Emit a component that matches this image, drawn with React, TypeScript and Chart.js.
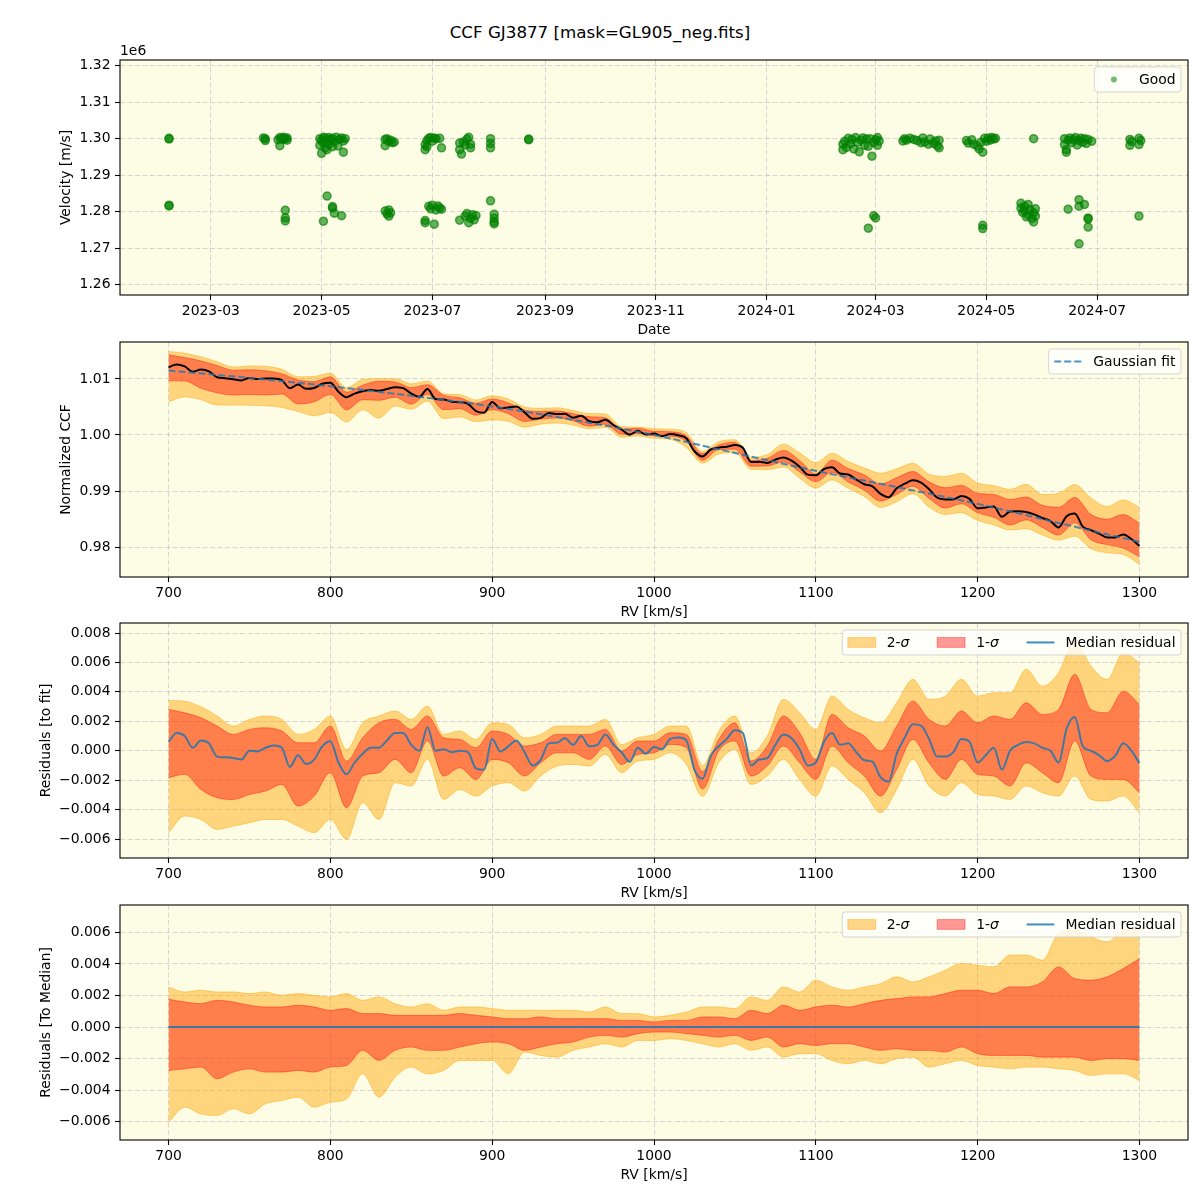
import React, { useEffect, useRef } from 'react';
import { Chart, registerables } from 'chart.js';

Chart.register(...registerables);

const FONT = '"DejaVu Sans", "Liberation Sans", sans-serif';
const FS = 13.9;
const BG = 'rgb(253,252,228)';
const GRID = 'rgba(165,165,185,0.55)';
const C2S = 'rgba(255,165,0,0.45)';
const C1S = 'rgba(255,0,0,0.4)';
const BLUE = 'rgba(31,119,180,0.85)';
const FIT_BLUE = 'rgba(31,119,180,0.8)';

const TITLE = 'CCF GJ3877 [mask=GL905_neg.fits]';

// ---------------- Panel 1: velocities vs date ----------------
const obsDates = [
  '2023-02-06', '2023-02-06', '2023-02-06', '2023-02-06',
  '2023-03-30', '2023-03-31', '2023-03-31', '2023-04-07', '2023-04-08', '2023-04-08', '2023-04-09', '2023-04-10', '2023-04-10', '2023-04-11', '2023-04-12', '2023-04-12', '2023-04-11', '2023-04-11', '2023-04-11',
  '2023-04-30', '2023-04-30', '2023-05-01', '2023-05-01', '2023-05-02', '2023-05-02', '2023-05-03', '2023-05-03', '2023-05-04', '2023-05-04', '2023-05-05', '2023-05-05', '2023-05-06', '2023-05-07', '2023-05-07', '2023-05-08', '2023-05-09', '2023-05-10', '2023-05-11', '2023-05-12', '2023-05-13', '2023-05-13', '2023-05-14',
  '2023-05-02', '2023-05-04', '2023-05-07', '2023-05-08', '2023-05-07', '2023-05-12',
  '2023-06-05', '2023-06-05', '2023-06-06', '2023-06-07', '2023-06-08', '2023-06-09', '2023-06-10', '2023-06-05', '2023-06-06', '2023-06-07', '2023-06-07', '2023-06-08',
  '2023-06-27', '2023-06-27', '2023-06-28', '2023-06-28', '2023-06-29', '2023-06-30', '2023-07-01', '2023-07-02', '2023-07-03', '2023-07-05', '2023-07-06',
  '2023-06-27', '2023-06-27', '2023-06-29', '2023-06-30', '2023-07-01', '2023-07-02', '2023-07-03', '2023-07-04', '2023-07-05', '2023-07-06',
  '2023-07-16', '2023-07-16', '2023-07-17', '2023-07-18', '2023-07-19', '2023-07-20', '2023-07-21', '2023-07-22', '2023-07-22',
  '2023-07-16', '2023-07-19', '2023-07-20', '2023-07-21', '2023-07-22', '2023-07-23', '2023-07-24', '2023-07-25',
  '2023-08-02', '2023-08-02', '2023-08-02', '2023-08-02', '2023-08-04', '2023-08-04', '2023-08-04', '2023-08-04', '2023-08-23', '2023-08-23',
  '2024-02-12', '2024-02-12', '2024-02-13', '2024-02-14', '2024-02-15', '2024-02-16', '2024-02-17', '2024-02-18', '2024-02-19', '2024-02-20', '2024-02-21', '2024-02-22',
  '2024-02-23', '2024-02-24', '2024-02-25', '2024-02-26', '2024-02-27', '2024-02-28', '2024-02-29', '2024-03-01', '2024-03-02', '2024-03-02', '2024-03-03',
  '2024-02-29', '2024-03-01', '2024-02-26',
  '2024-03-16', '2024-03-17', '2024-03-18', '2024-03-20', '2024-03-22', '2024-03-24', '2024-03-26', '2024-03-27', '2024-03-28', '2024-03-30', '2024-03-31', '2024-04-02', '2024-04-03', '2024-04-04', '2024-04-05', '2024-04-05',
  '2024-04-20', '2024-04-21', '2024-04-23', '2024-04-24', '2024-04-26', '2024-04-27', '2024-04-28', '2024-04-29', '2024-04-30', '2024-05-01', '2024-05-02', '2024-05-03', '2024-05-04', '2024-05-05', '2024-05-06', '2024-04-29', '2024-04-29',
  '2024-05-27', '2024-05-20', '2024-05-20', '2024-05-21', '2024-05-22', '2024-05-22', '2024-05-23', '2024-05-24', '2024-05-24', '2024-05-25', '2024-05-26', '2024-05-27', '2024-05-27', '2024-05-28', '2024-05-28',
  '2024-06-13', '2024-06-13', '2024-06-14', '2024-06-14', '2024-06-15', '2024-06-16', '2024-06-17', '2024-06-18', '2024-06-19', '2024-06-20', '2024-06-21', '2024-06-22', '2024-06-23', '2024-06-24', '2024-06-25', '2024-06-26', '2024-06-28',
  '2024-06-15', '2024-06-21', '2024-06-21', '2024-06-24', '2024-06-26', '2024-06-26', '2024-06-26', '2024-06-21',
  '2024-07-19', '2024-07-19', '2024-07-20', '2024-07-24', '2024-07-24', '2024-07-25', '2024-07-24',
];
const obsVel = [
  1300100, 1299900, 1281800, 1281600,
  1300200, 1299500, 1300000, 1299700, 1300300, 1298100, 1300000, 1299800, 1300400, 1300100, 1300200, 1299600, 1280400, 1278300, 1277500,
  1300000, 1298200, 1299500, 1296000, 1300400, 1298800, 1297500, 1300200, 1299000, 1297000, 1300300, 1298500, 1299700, 1297800, 1300100, 1299200, 1300400, 1298000, 1299800, 1300200, 1296300, 1299400, 1300000,
  1277400, 1284300, 1281400, 1279600, 1281000, 1278900,
  1299800, 1298100, 1300000, 1299200, 1299600, 1298900, 1299100, 1280200, 1279400, 1280500, 1278800, 1279700,
  1298400, 1297000, 1299500, 1297800, 1300100, 1300300, 1299300, 1300200, 1300000, 1300100, 1297500,
  1277600, 1277000, 1281500, 1280800, 1281800, 1276600, 1280500, 1281600, 1281000, 1280700,
  1298800, 1297000, 1295800, 1299100, 1298300, 1299900, 1300400, 1298500, 1297500,
  1277700, 1278800, 1279500, 1277000, 1278200, 1279200, 1277800, 1279000,
  1300000, 1298700, 1297500, 1283000, 1279300, 1278200, 1277200, 1276700, 1299900, 1299700,
  1298500, 1297000, 1299300, 1297600, 1300100, 1298600, 1299800, 1297200, 1300300, 1299000, 1296400, 1299600,
  1300200, 1298200, 1299900, 1297900, 1300000, 1295200, 1298900, 1299700, 1300300, 1298200, 1299400,
  1278900, 1278300, 1275500,
  1299400, 1300000, 1299600, 1300100, 1299800, 1299500, 1298900, 1300200, 1299100, 1298500, 1299900, 1298700, 1299400, 1298000, 1297500, 1299600,
  1299500, 1298800, 1299700, 1298500, 1298000, 1297200, 1299000, 1296300, 1300100, 1299300, 1300200, 1299600, 1300300, 1299900, 1300100, 1276300, 1275400,
  1300000, 1282300, 1281000, 1279800, 1281500, 1280200, 1278600, 1282000, 1279200, 1280600, 1278100, 1277200, 1279700, 1280800, 1278800,
  1300000, 1298400, 1297000, 1296300, 1299600, 1300200, 1298900, 1299800, 1300300, 1298300, 1299500, 1300100, 1299000, 1300000, 1298700, 1299800, 1299300,
  1280700, 1283300, 1281500, 1282000, 1278300, 1278000, 1275800, 1271200,
  1299800, 1298200, 1299200, 1300100, 1298400, 1299500, 1278800,
];
const dateTicks = ['2023-03-01', '2023-05-01', '2023-07-01', '2023-09-01', '2023-11-01', '2024-01-01', '2024-03-01', '2024-05-01', '2024-07-01'];
const dateTickLabels = ['2023-03', '2023-05', '2023-07', '2023-09', '2023-11', '2024-01', '2024-03', '2024-05', '2024-07'];
const dateMin = '2023-01-10';
const dateMax = '2024-08-20';
const velTicks = [1260000, 1270000, 1280000, 1290000, 1300000, 1310000, 1320000];
const velMin = 1257200;
const velMax = 1321550;

// ---------------- RV grids ----------------
const rv5 = [700,705,710,715,720,725,730,735,740,745,750,755,760,765,770,775,780,785,790,795,800,805,810,815,820,825,830,835,840,845,850,855,860,865,870,875,880,885,890,895,900,905,910,915,920,925,930,935,940,945,950,955,960,965,970,975,980,985,990,995,1000,1005,1010,1015,1020,1025,1030,1035,1040,1045,1050,1055,1060,1065,1070,1075,1080,1085,1090,1095,1100,1105,1110,1115,1120,1125,1130,1135,1140,1145,1150,1155,1160,1165,1170,1175,1180,1185,1190,1195,1200,1205,1210,1215,1220,1225,1230,1235,1240,1245,1250,1255,1260,1265,1270,1275,1280,1285,1290,1295,1300];
const rv10 = [700,710,720,730,740,750,760,770,780,790,800,810,820,830,840,850,860,870,880,890,900,910,920,930,940,950,960,970,980,990,1000,1010,1020,1030,1040,1050,1060,1070,1080,1090,1100,1110,1120,1130,1140,1150,1160,1170,1180,1190,1200,1210,1220,1230,1240,1250,1260,1270,1280,1290,1300];
const rvFit = [700,750,800,850,900,950,1000,1050,1100,1150,1200,1250,1300];
const rvTicks = [700, 800, 900, 1000, 1100, 1200, 1300];
const rvMin = 670;
const rvMax = 1330;

// ---------------- Panel 2: normalized CCF ----------------
const ccfMedian = [
  1.0121,1.01257,1.01224,1.01131,1.01168,1.01135,1.01032,1.01014,1.00996,1.00973,
  1.0102,1.01,1.0101,1.0101,1.0098,1.00835,1.009,1.00825,1.0084,1.00915,
  1.00935,1.00773,1.00676,1.00739,1.00782,1.00805,1.00788,1.00821,1.00854,1.00837,
  1.0074,1.00681,1.00822,1.00643,1.00634,1.00595,1.00586,1.00557,1.00428,1.00399,
  1.0059,1.00476,1.00492,1.00508,1.00404,1.0029,1.00306,1.00392,1.00373,1.00379,
  1.0031,1.00343,1.00246,1.00229,1.00272,1.00175,1.00098,1.00006,1.00074,1.00007,
  1.00025,0.99978,1.00016,0.99994,0.99942,0.9971,0.99618,0.99741,0.99774,0.99792,
  0.9982,0.99768,0.99516,0.99524,0.99502,0.9956,0.99598,0.99541,0.99434,0.99292,
  0.9928,0.99391,0.99422,0.99313,0.99294,0.99205,0.99121,0.99082,0.98948,0.98889,
  0.9905,0.9913,0.9919,0.9915,0.9903,0.9888,0.9885,0.9885,0.9891,0.9886,
  0.9869,0.98706,0.98722,0.98538,0.98634,0.9864,0.98626,0.98582,0.98518,0.98464,
  0.9835,0.98548,0.98596,0.98364,0.98302,0.9824,0.98168,0.98171,0.98224,0.98142,
  0.9802,
];
const gaussFit = [1.0115,1.0102,1.0087,1.007,1.0051,1.0027,1.0,0.9968,0.9936,0.9907,0.9877,0.9843,0.9809];
const ccf2Hi = [1.01492,1.01461,1.01397,1.01308,1.01214,1.01233,1.01226,1.01173,1.01041,1.01045,1.01106,1.00845,1.00992,1.01004,1.01004,1.00913,1.00966,1.00735,1.0072,1.00625,1.007,1.00641,1.00502,1.00477,1.00486,1.00438,1.00384,1.00375,1.00151,1.00142,1.00111,1.00104,1.0004,0.99708,0.99878,0.99916,0.99602,0.99652,0.99837,0.99682,0.99505,0.99673,0.99525,0.9941,0.99318,0.99396,0.99495,0.99299,0.99261,0.99315,0.99141,0.99096,0.99028,0.99119,0.98937,0.9896,0.99116,0.98877,0.98723,0.9884,0.98708];
const ccf1Hi = [1.01431,1.01382,1.01322,1.0124,1.01157,1.01165,1.01146,1.01094,1.00984,1.00954,1.01038,1.00766,1.0089,1.00958,1.00947,1.00845,1.00898,1.00712,1.00663,1.00568,1.00644,1.00573,1.00446,1.0042,1.00429,1.00381,1.00327,1.00307,1.00106,1.0012,1.00066,1.00058,0.99983,0.99668,0.99821,0.9987,0.99546,0.99584,0.99724,0.99546,0.99301,0.99549,0.994,0.99286,0.99126,0.99238,0.99347,0.99163,0.99058,0.991,0.9896,0.98938,0.98847,0.98892,0.98745,0.98711,0.98885,0.98583,0.98496,0.98579,0.98425];
const ccf1Lo = [1.00967,1.00964,1.00835,1.00753,1.00715,1.00723,1.00716,1.00731,1.00554,1.00592,1.00721,1.00449,1.0063,1.00619,1.00675,1.00551,1.00728,1.00452,1.0047,1.00353,1.00451,1.0038,1.00242,1.00284,1.00304,1.00256,1.00157,1.00194,1.00015,1.00029,0.99986,0.99979,0.99892,0.99548,0.99742,0.99746,0.99444,0.99448,0.9952,0.99342,0.99165,0.99334,0.99162,0.99014,0.9882,0.98943,0.99087,0.98868,0.98695,0.98771,0.9861,0.9853,0.98394,0.98484,0.98349,0.98213,0.98432,0.9813,0.98043,0.97979,0.97825];
const ccf2Lo = [1.00593,1.0068,1.00631,1.00537,1.00534,1.00531,1.00523,1.00493,1.00418,1.00343,1.00403,1.00234,1.00449,1.00301,1.00517,1.0046,1.00603,1.00293,1.00323,1.0024,1.0027,1.00245,1.0014,1.00194,1.00214,1.00177,1.00112,1.00137,0.99959,0.99984,0.99941,0.99922,0.99779,0.99498,0.99662,0.99689,0.99387,0.9938,0.99429,0.99229,0.99052,0.99198,0.99049,0.98901,0.98707,0.98807,0.98951,0.9871,0.98582,0.98613,0.98473,0.98394,0.98303,0.98326,0.98213,0.98122,0.98194,0.97971,0.97896,0.97866,0.97689];
const ccfTicks = [0.98, 0.99, 1.0, 1.01];
const ccfMin = 0.974643;
const ccfMax = 1.016607;

// ---------------- Panel 3: residuals to fit (values in 1e-3) ----------------
const fitResMedianE3 = [
  0.6,1.2,1.0,0.2,0.7,0.5,-0.4,-0.45,-0.5,-0.6,
  0.0,-0.05,0.2,0.35,0.2,-1.1,-0.3,-0.9,-0.6,0.3,
  0.65,-0.8,-1.6,-0.8,-0.2,0.2,0.2,0.7,1.2,1.2,
  0.4,0.0,1.6,0.0,0.1,-0.1,0.0,-0.1,-1.2,-1.3,
  0.8,-0.05,0.3,0.7,-0.1,-1.0,-0.6,0.5,0.55,0.85,
  0.4,1.0,0.3,0.4,1.1,0.4,-0.1,-0.75,0.2,-0.2,
  0.25,0.1,0.8,0.9,0.7,-1.3,-1.9,-0.35,0.3,0.8,
  1.4,1.2,-1.0,-0.6,-0.5,0.4,1.1,0.85,0.1,-1.0,
  -0.8,0.6,1.2,0.4,0.5,-0.1,-0.65,-0.75,-1.8,-2.1,
  -0.2,0.9,1.8,1.7,0.8,-0.4,-0.4,-0.1,0.8,0.6,
  -0.8,-0.3,0.2,-1.3,0.0,0.4,0.6,0.5,0.2,0.0,
  -0.8,1.5,2.3,0.3,0.0,-0.3,-0.7,-0.35,0.5,0.0,
  -0.85,
];
const fitRes2HiE3 = [3.42,3.37,2.99,2.36,1.68,2.13,2.36,2.13,1.11,1.45,2.36,0.09,1.9,2.36,2.7,2.13,3.04,1.11,1.34,0.77,1.9,1.79,0.88,1.11,1.68,1.68,1.68,2.13,0.43,0.88,1.11,1.68,1.68,-1.0,1.34,2.36,-0.14,1.0,3.49,2.58,1.45,3.71,2.81,2.24,1.9,3.26,4.85,3.49,3.71,4.85,3.71,3.94,3.94,5.53,4.39,5.3,7.5,5.75,4.85,6.66,5.98];
const fitRes1HiE3 = [2.81,2.58,2.24,1.68,1.11,1.45,1.56,1.34,0.54,0.54,1.68,-0.7,0.88,1.9,2.13,1.45,2.36,0.88,0.77,0.2,1.34,1.11,0.32,0.54,1.11,1.11,1.11,1.45,-0.02,0.66,0.66,1.22,1.11,-1.4,0.77,1.9,-0.7,0.32,2.36,1.22,-0.59,2.47,1.56,1.0,-0.02,1.68,3.37,2.13,1.68,2.7,1.9,2.36,2.13,3.26,2.47,2.81,5.19,2.81,2.58,4.05,3.15];
const fitRes1LoE3 = [-1.83,-1.6,-2.63,-3.19,-3.31,-2.97,-2.74,-2.29,-3.76,-3.08,-1.49,-3.87,-1.72,-1.49,-0.59,-1.49,0.66,-1.72,-1.16,-1.95,-0.59,-0.82,-1.72,-0.82,-0.14,-0.14,-0.59,0.32,-0.93,-0.25,-0.14,0.43,0.2,-2.6,-0.02,0.66,-1.72,-1.04,0.32,-0.82,-1.95,0.32,-0.82,-1.72,-3.08,-1.27,0.77,-0.82,-1.95,-0.59,-1.6,-1.72,-2.4,-0.82,-1.49,-2.17,0.66,-1.72,-1.95,-1.95,-2.85];
const fitRes2LoE3 = [-5.57,-4.44,-4.67,-5.35,-5.12,-4.89,-4.67,-4.67,-5.12,-5.57,-4.67,-6.02,-3.53,-4.67,-2.17,-2.4,-0.59,-3.31,-2.63,-3.08,-2.4,-2.17,-2.74,-1.72,-1.04,-0.93,-1.04,-0.25,-1.49,-0.7,-0.59,-0.14,-0.93,-3.1,-0.82,0.09,-2.29,-1.72,-0.59,-1.95,-3.08,-1.04,-1.95,-2.85,-4.21,-2.63,-0.59,-2.4,-3.08,-2.17,-2.97,-3.08,-3.31,-2.4,-2.85,-3.08,-1.72,-3.31,-3.42,-3.08,-4.21];
const fitResTicks = [-0.006, -0.004, -0.002, 0, 0.002, 0.004, 0.006, 0.008];
const fitResMin = -0.00729;
const fitResMax = 0.00868;

// ---------------- Panel 4: residuals to median (values in 1e-3) ----------------
const rvEnds = [700, 1300];
const medResMedianE3 = [0, 0];
const medRes2HiE3 = [2.54,2.22,2.33,2.22,2.22,2.12,2.22,2.01,2.12,2.01,1.91,2.12,1.69,1.91,1.48,1.27,1.48,1.06,1.27,1.27,1.17,1.06,1.06,1.06,1.06,1.06,0.95,1.27,0.85,0.85,0.64,0.74,0.95,1.27,1.27,1.17,1.91,1.69,2.54,2.22,2.97,2.54,2.33,2.54,2.75,3.18,2.86,3.18,3.6,4.03,3.92,3.81,4.56,4.56,4.24,5.93,6.14,5.72,5.4,6.14,6.36];
const medRes1HiE3 = [1.76,1.59,1.48,1.69,1.59,1.38,1.27,1.27,1.38,1.27,1.06,1.17,0.85,0.85,0.74,0.74,0.74,0.74,0.85,0.74,0.64,0.53,0.53,0.64,0.53,0.53,0.53,0.53,0.42,0.42,0.32,0.42,0.42,0.64,0.64,0.53,1.06,0.85,1.38,1.06,1.27,1.38,1.27,1.48,1.69,1.8,1.91,1.91,2.12,2.33,2.33,2.12,2.54,2.54,2.86,3.81,3.07,2.97,3.18,3.71,4.34];
const medRes1LoE3 = [-2.75,-2.65,-2.54,-3.28,-2.86,-2.65,-2.86,-2.86,-2.75,-2.86,-2.54,-2.44,-1.48,-2.12,-1.48,-1.27,-1.48,-1.48,-1.27,-1.06,-0.95,-1.06,-1.48,-1.27,-1.06,-0.95,-0.64,-0.53,-0.64,-0.42,-0.32,-0.32,-0.42,-0.53,-0.64,-0.53,-0.85,-0.64,-1.27,-1.06,-1.17,-1.06,-1.06,-1.27,-1.48,-1.38,-1.48,-1.48,-1.59,-1.27,-1.69,-1.8,-1.8,-1.8,-1.91,-1.91,-1.91,-2.12,-2.01,-2.01,-2.12];
const medRes2LoE3 = [-6.04,-5.08,-5.51,-5.61,-5.19,-5.51,-4.87,-4.66,-4.45,-5.08,-4.77,-4.56,-2.97,-4.45,-3.18,-2.54,-2.97,-2.75,-2.12,-2.12,-2.12,-2.97,-1.59,-1.8,-1.91,-1.48,-1.27,-1.06,-1.27,-0.85,-0.85,-0.74,-0.85,-1.06,-1.27,-1.06,-1.48,-1.27,-1.91,-1.69,-1.69,-2.12,-2.33,-2.12,-2.33,-2.01,-1.91,-2.54,-2.33,-2.12,-2.44,-2.54,-2.65,-2.54,-2.54,-2.65,-2.75,-3.07,-2.97,-2.97,-3.39];
const medResTicks = [-0.006, -0.004, -0.002, 0, 0.002, 0.004, 0.006];
const medResMin = -0.007164;
const medResMax = 0.007736;

// ---------------- layout ----------------
const PANEL_TOPS = [60, 342, 623, 905];
const PLOT_H = 235;
const PAD_TOP = 20;
const XAXIS_H = 46;
const CANVAS_H = PAD_TOP + PLOT_H + XAXIS_H;

// ---------------- helpers ----------------
function dayNum(s: string): number {
  const [y, m, d] = s.split('-').map(Number);
  return Date.UTC(y, m - 1, d) / 86400000;
}
function xy(xs: number[], ys: number[], k = 1) {
  return xs.map((x, i) => ({ x, y: ys[i] * k }));
}
const minusFmt = (s: string) => s.replace('-', '\u2212');

type LegendItem = { kind: 'patch' | 'line' | 'dash' | 'dot'; color: string; parts: [string, boolean][] };

function drawLegend(chart: any, items: LegendItem[]) {
  if (!items || !items.length) return;
  const ctx = chart.ctx as CanvasRenderingContext2D;
  const a = chart.chartArea;
  const pad = 0.4 * FS, hl = 2 * FS, tp = 0.8 * FS, cs = 2 * FS;
  const fontN = `${FS}px ${FONT}`;
  const fontI = `italic ${FS}px ${FONT}`;
  ctx.save();
  const tw = items.map((it) =>
    it.parts.reduce((s, [t, ital]) => {
      ctx.font = ital ? fontI : fontN;
      return s + ctx.measureText(t).width;
    }, 0)
  );
  const w = 2 * pad + tw.reduce((s, v) => s + v + hl + tp, 0) + cs * (items.length - 1);
  const h = 25;
  const x0 = a.right - 0.5 * FS - w;
  const y0 = a.top + 0.5 * FS;
  const r = 3;
  ctx.beginPath();
  ctx.moveTo(x0 + r, y0);
  ctx.lineTo(x0 + w - r, y0);
  ctx.arcTo(x0 + w, y0, x0 + w, y0 + r, r);
  ctx.lineTo(x0 + w, y0 + h - r);
  ctx.arcTo(x0 + w, y0 + h, x0 + w - r, y0 + h, r);
  ctx.lineTo(x0 + r, y0 + h);
  ctx.arcTo(x0, y0 + h, x0, y0 + h - r, r);
  ctx.lineTo(x0, y0 + r);
  ctx.arcTo(x0, y0, x0 + r, y0, r);
  ctx.closePath();
  ctx.fillStyle = 'rgba(255,255,255,0.8)';
  ctx.fill();
  ctx.strokeStyle = 'rgba(204,204,204,0.8)';
  ctx.lineWidth = 1;
  ctx.stroke();
  let x = x0 + pad;
  const cy = y0 + h / 2;
  items.forEach((it, k) => {
    if (it.kind === 'patch') {
      ctx.fillStyle = it.color;
      ctx.fillRect(x, cy - 0.35 * FS, hl, 0.7 * FS);
      ctx.strokeStyle = it.color;
      ctx.lineWidth = 1;
      ctx.strokeRect(x, cy - 0.35 * FS, hl, 0.7 * FS);
    } else if (it.kind === 'line' || it.kind === 'dash') {
      ctx.strokeStyle = it.color;
      ctx.lineWidth = 2;
      ctx.setLineDash(it.kind === 'dash' ? [7, 3] : []);
      ctx.beginPath();
      ctx.moveTo(x, cy);
      ctx.lineTo(x + hl, cy);
      ctx.stroke();
      ctx.setLineDash([]);
    } else {
      ctx.fillStyle = it.color;
      ctx.beginPath();
      ctx.arc(x + hl / 2, cy, 3, 0, Math.PI * 2);
      ctx.fill();
    }
    x += hl + tp;
    ctx.fillStyle = '#000';
    ctx.textBaseline = 'middle';
    ctx.textAlign = 'left';
    it.parts.forEach(([t, ital]) => {
      ctx.font = ital ? fontI : fontN;
      ctx.fillText(t, x, cy + 1);
      x += ctx.measureText(t).width;
    });
    x += cs;
  });
  ctx.restore();
}

function decoPlugin(legend: LegendItem[], extra?: (chart: any) => void) {
  return {
    id: 'deco',
    beforeDraw(chart: any) {
      const { ctx, chartArea: a } = chart;
      ctx.save();
      ctx.fillStyle = BG;
      ctx.fillRect(a.left, a.top, a.right - a.left, a.bottom - a.top);
      ctx.restore();
    },
    afterDraw(chart: any) {
      const { ctx, chartArea: a } = chart;
      ctx.save();
      ctx.strokeStyle = '#000';
      ctx.lineWidth = 1.1;
      ctx.strokeRect(a.left, a.top, a.right - a.left, a.bottom - a.top);
      ctx.restore();
      drawLegend(chart, legend);
      if (extra) extra(chart);
    },
  };
}

const tickFont = { size: FS, family: FONT };

function gridOpts() {
  return { color: GRID, lineWidth: 0.8, tickColor: '#000', tickLength: 5, tickWidth: 1.1, tickBorderDash: [] };
}

function yScale(min: number, max: number, ticks: number[], fmt: (v: number) => string, title: string, titleX: number) {
  return {
    type: 'linear',
    position: 'left',
    min,
    max,
    afterBuildTicks: (s: any) => {
      s.ticks = ticks.map((v) => ({ value: v }));
    },
    afterFit: (s: any) => {
      s.width = 120;
    },
    ticks: { callback: (v: any) => fmt(Number(v)), font: tickFont, color: '#000', padding: 4.5, autoSkip: false },
    grid: gridOpts(),
    border: { display: false, dash: [5, 2.5] },
    title: { display: true, text: title, font: tickFont, color: '#000', padding: { top: titleX - (FS * 1.2) / 2, bottom: 0 } },
  };
}

function xScale(min: number, max: number, ticks: number[], fmt: (v: number) => string, title: string) {
  return {
    type: 'linear',
    position: 'bottom',
    min,
    max,
    afterBuildTicks: (s: any) => {
      s.ticks = ticks.map((v) => ({ value: v }));
    },
    afterFit: (s: any) => {
      s.height = XAXIS_H;
    },
    ticks: { callback: (v: any) => fmt(Number(v)), font: tickFont, color: '#000', padding: 3, autoSkip: false, maxRotation: 0, minRotation: 0 },
    grid: gridOpts(),
    border: { display: false, dash: [5, 2.5] },
    title: { display: true, text: title, font: tickFont, color: '#000', padding: { top: 0, bottom: 2.7 } },
  };
}

function baseOptions(scales: any) {
  return {
    responsive: false,
    animation: false,
    events: [],
    layout: { padding: { top: PAD_TOP, right: 12, left: 0, bottom: 0 } },
    plugins: { legend: { display: false }, tooltip: { enabled: false } },
    elements: { point: { radius: 0 }, line: { cubicInterpolationMode: 'monotone' } },
    scales,
  };
}

function bandDatasets(xs: number[], hi2: number[], lo2: number[], hi1: number[], lo1: number[], k: number) {
  return [
    { data: xy(xs, hi2, k), fill: 1, backgroundColor: C2S, borderColor: C2S, borderWidth: 1, pointRadius: 0, order: 3 },
    { data: xy(xs, lo2, k), fill: false, borderColor: C2S, borderWidth: 1, pointRadius: 0, order: 3 },
    { data: xy(xs, hi1, k), fill: 3, backgroundColor: C1S, borderColor: C1S, borderWidth: 1, pointRadius: 0, order: 2 },
    { data: xy(xs, lo1, k), fill: false, borderColor: C1S, borderWidth: 1, pointRadius: 0, order: 2 },
  ];
}

const sigmaLegend: LegendItem[] = [
  { kind: 'patch', color: C2S, parts: [['2-', false], ['\u03c3', true]] },
  { kind: 'patch', color: C1S, parts: [['1-', false], ['\u03c3', true]] },
  { kind: 'line', color: BLUE, parts: [['Median residual', false]] },
];

const fmtRv = (v: number) => String(Math.round(v));
const fmt3 = (v: number) => minusFmt((Math.abs(v) < 1e-12 ? 0 : v).toFixed(3));

// ---------------- chart configs ----------------
function configVelocity() {
  const tickDays = dateTicks.map(dayNum);
  const labelMap = new Map<number, string>();
  tickDays.forEach((d, i) => labelMap.set(d, dateTickLabels[i]));
  const pts = obsDates.map((d, i) => ({ x: dayNum(d), y: obsVel[i] }));
  return {
    type: 'scatter',
    data: {
      datasets: [
        {
          label: 'Good',
          data: pts,
          pointRadius: 4,
          pointBackgroundColor: 'rgba(0,128,0,0.6)',
          pointBorderColor: 'rgba(0,128,0,0.65)',
          pointBorderWidth: 1.5,
        },
      ],
    },
    options: baseOptions({
      x: xScale(dayNum(dateMin), dayNum(dateMax), tickDays, (v) => labelMap.get(v) || '', 'Date'),
      y: yScale(velMin, velMax, velTicks, (v) => (v / 1e6).toFixed(2), 'Velocity [m/s]', 66),
    }),
    plugins: [
      decoPlugin([{ kind: 'dot', color: 'rgba(0,128,0,0.55)', parts: [['Good', false]] }], (chart: any) => {
        const { ctx, chartArea: a } = chart;
        ctx.save();
        ctx.font = `${FS}px ${FONT}`;
        ctx.fillStyle = '#000';
        ctx.textAlign = 'left';
        ctx.textBaseline = 'middle';
        ctx.fillText('1e6', a.left, a.top - 9);
        ctx.restore();
      }),
    ],
  };
}

function configCcf() {
  return {
    type: 'line',
    data: {
      datasets: [
        ...bandDatasets(rv10, ccf2Hi, ccf2Lo, ccf1Hi, ccf1Lo, 1),
        { data: xy(rv5, ccfMedian), borderColor: '#000', borderWidth: 2, pointRadius: 0, fill: false, order: 1 },
        { data: xy(rvFit, gaussFit), borderColor: FIT_BLUE, borderWidth: 2, borderDash: [7, 3], pointRadius: 0, fill: false, order: 0 },
      ],
    },
    options: baseOptions({
      x: xScale(rvMin, rvMax, rvTicks, fmtRv, 'RV [km/s]'),
      y: yScale(ccfMin, ccfMax, ccfTicks, (v) => v.toFixed(2), 'Normalized CCF', 66),
    }),
    plugins: [decoPlugin([{ kind: 'dash', color: FIT_BLUE, parts: [['Gaussian fit', false]] }])],
  };
}

function configFitRes() {
  return {
    type: 'line',
    data: {
      datasets: [
        ...bandDatasets(rv10, fitRes2HiE3, fitRes2LoE3, fitRes1HiE3, fitRes1LoE3, 1e-3),
        { data: xy(rv5, fitResMedianE3, 1e-3), borderColor: BLUE, borderWidth: 2, pointRadius: 0, fill: false, order: 1 },
      ],
    },
    options: baseOptions({
      x: xScale(rvMin, rvMax, rvTicks, fmtRv, 'RV [km/s]'),
      y: yScale(fitResMin, fitResMax, fitResTicks, fmt3, 'Residuals [to fit]', 46),
    }),
    plugins: [decoPlugin(sigmaLegend)],
  };
}

function configMedRes() {
  return {
    type: 'line',
    data: {
      datasets: [
        ...bandDatasets(rv10, medRes2HiE3, medRes2LoE3, medRes1HiE3, medRes1LoE3, 1e-3),
        { data: xy(rvEnds, medResMedianE3, 1e-3), borderColor: BLUE, borderWidth: 2, pointRadius: 0, fill: false, order: 1 },
      ],
    },
    options: baseOptions({
      x: xScale(rvMin, rvMax, rvTicks, fmtRv, 'RV [km/s]'),
      y: yScale(medResMin, medResMax, medResTicks, fmt3, 'Residuals [To Median]', 46),
    }),
    plugins: [decoPlugin(sigmaLegend)],
  };
}

function Panel({ top, make }: { top: number; make: () => any }) {
  const ref = useRef<HTMLCanvasElement>(null);
  useEffect(() => {
    if (!ref.current) return;
    const chart = new Chart(ref.current, make());
    return () => chart.destroy();
  }, []);
  return (
    <canvas
      ref={ref}
      width={1200}
      height={CANVAS_H}
      style={{ position: 'absolute', left: 0, top: top - PAD_TOP, width: 1200, height: CANVAS_H }}
    />
  );
}

export default function App() {
  Chart.defaults.font.family = FONT;
  Chart.defaults.font.size = FS;
  Chart.defaults.color = '#000';
  return (
    <div style={{ position: 'absolute', left: 0, top: 0, width: 1200, height: 1200, background: '#fff', overflow: 'hidden' }}>
      <div
        style={{
          position: 'absolute',
          left: 0,
          top: 21,
          width: 1200,
          textAlign: 'center',
          fontFamily: FONT,
          fontSize: 16.7,
          lineHeight: '22px',
          color: '#000',
        }}
      >
        {TITLE}
      </div>
      <Panel top={PANEL_TOPS[0]} make={configVelocity} />
      <Panel top={PANEL_TOPS[1]} make={configCcf} />
      <Panel top={PANEL_TOPS[2]} make={configFitRes} />
      <Panel top={PANEL_TOPS[3]} make={configMedRes} />
    </div>
  );
}
